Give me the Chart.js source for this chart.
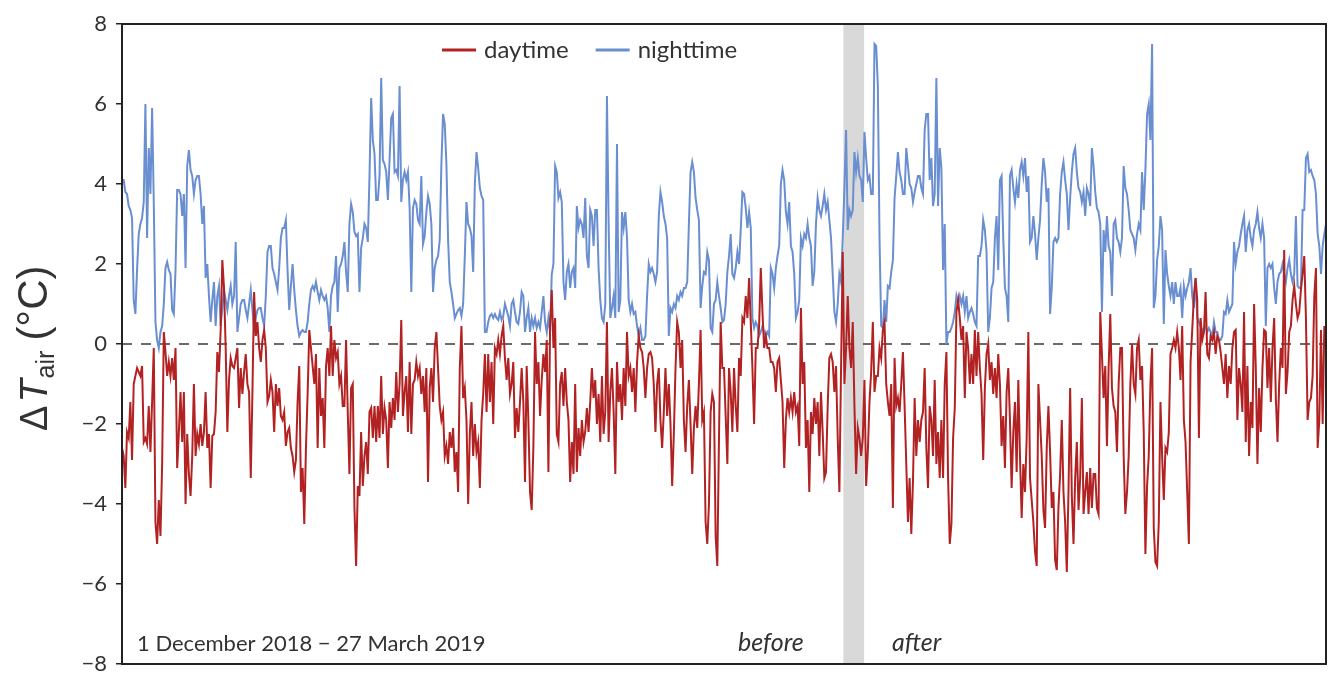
<!DOCTYPE html>
<html>
<head>
<meta charset="utf-8">
<script src="https://cdn.jsdelivr.net/npm/chart.js@4.4.1/dist/chart.umd.min.js"></script>
<style>
  html, body { margin: 0; padding: 0; background: #fff; }
  #wrap { width: 1330px; height: 673px; }
</style>
</head>
<body>
<div id="wrap"><canvas id="chart" width="1330" height="673"></canvas></div>
<script>
// air temperature difference, 1 Dec 2018 - 27 Mar 2019, evenly spaced samples
const spanDays = 116;
const bandStart = 69.5;   // days after 1 Dec (grey band)
const bandEnd = 71.5;

const daytime = [
  -2.6, -2.8, -3.6, -2.2, -2.35, -1.45, -2.9, -1.0, -0.8, -0.6,
  -0.7, -0.8, -0.55, -2.45, -2.35, -2.5, -1.55, -2.7, -1.45, -0.1,
  -4.45, -5.0, -3.9, -4.8, -3.0, 0.3, -0.2, -0.8, -0.45, -0.8,
  -0.35, -0.9, -0.1, -3.1, -2.2, -1.2, -2.45, -1.2, -4.0, -2.25,
  -3.25, -3.8, -2.8, -1.0, -2.8, -2.25, -2.5, -2.0, -2.55, -2.2,
  -1.2, -2.6, -2.25, -3.6, -2.3, -2.25, -1.7, -0.2, -0.7, 0.35,
  2.1, 1.4, -0.1, -2.2, -0.9, -0.35, -0.55, -0.6, -0.35, -0.1,
  -1.6, -0.6, -1.25, -0.7, -0.25, -1.0, -1.2, -3.35, -1.2, 1.3,
  0.2, 0.55, -0.1, -0.45, 0.1, 0.35, -0.1, -1.45, -1.3, -0.9,
  -1.2, -2.2, -1.0, -1.55, -1.1, -1.8, -1.9, -1.7, -2.55, -2.2,
  -2.1, -2.6, -2.8, -3.2, -2.9, -1.45, -0.55, -3.7, -3.1, -4.5,
  -2.6, -1.25, 0.35, -0.1, -0.55, -1.0, -0.25, -2.6, -0.6, -1.8,

  -1.35, -2.6, -0.55, -0.1, -0.8, 0.45, -0.8, 0.1, -0.35, -0.2,
  -1.0, -0.8, -1.55, -1.55, 0.1, -1.7, -3.25, -1.1, -1.0, -4.1,
  -5.55, -3.55, -3.8, -2.2, -3.55, -2.8, -2.45, -3.25, -1.7, -1.6,
  -2.35, -1.55, -2.45, -1.55, -2.35, -0.8, -2.25, -1.6, -1.9, -3.1,
  -1.45, -2.1, -1.35, -1.9, -0.7, -1.7, -1.0, 0.6, -1.8, -1.2,
  -0.8, -2.2, -0.45, -2.25, -1.0, -0.9, -0.45, -0.8, -0.6, -1.25,
  -0.8, -1.7, -0.6, -3.45, -1.1, -0.6, -1.45, -0.1, 0.3, -0.6,
  -1.55, -1.9, -1.7, -2.8, -2.55, -3.0, -2.2, -2.6, -2.1, -3.2,
  -2.7, -3.7, -0.6, 0.45, -1.35, -1.1, -1.9, -4.0, -2.25, -1.45,
  -2.8, -2.0, -2.7, -2.45, -3.6, -1.9, -1.25, -0.25, -1.7, -0.25,
  -1.45, -0.45, -2.0, -0.1, -0.25, 0.1, -0.25, 0.2, 0.45, -0.35,
  -0.9, -0.35, -1.25, -1.0, -0.45, -2.35, -1.6, -2.2, -1.45, -0.6,

  -1.45, -3.45, -0.55, -1.9, -3.7, -4.15, -2.6, 0.3, -1.0, -0.45,
  -1.8, -0.9, -0.25, -0.7, 0.1, -3.2, 0.45, 1.35, -0.1, 0.65,
  -2.25, -2.45, -1.0, -0.7, -1.55, -0.6, -1.45, -1.9, -3.45, -2.45,
  -3.25, -1.0, -3.2, -2.1, -2.8, -1.9, -2.45, -2.2, -1.6, -2.2,
  -1.45, -0.6, -1.35, -0.9, -2.0, -1.25, -2.45, -0.8, -2.25, -1.7,
  0.55, -2.45, -1.2, -0.6, -1.7, -3.25, -0.45, -1.45, -1.0, -1.9,
  -0.6, -1.55, 0.3, -0.8, -0.6, -1.2, -0.6, -1.7, -0.45, 0.2,
  -0.1, -0.2, -0.6, -1.35, -0.6, -0.25, -0.2, -0.35, -1.0, -2.2,
  -1.0, -0.6, -1.9, -2.6, -1.7, -0.6, -1.8, -1.0, -2.0, -3.55,
  -2.25, -0.6, 0.55, 0.3, -0.6, 0.1, -1.9, -2.7, -1.55, -0.9,
  -2.0, -3.25, -2.1, -1.55, -2.1, -1.0, 0.35, -1.9, -1.7, -4.45,
  -5.0, -4.0, -1.7, -1.25, -1.45, -4.8, -5.55, -2.35, 0.55, -0.6,

  -0.6, -1.8, -3.0, -0.6, -1.2, -2.2, -0.6, -1.55, -2.2, -0.35,
  -0.8, 0.65, 0.55, 1.2, 0.65, 1.65, 0.55, -0.6, -2.0, -0.1,
  -0.1, 0.45, 1.9, 0.8, -0.1, 0.2, -0.1, -0.1, -0.45, -0.45,
  -0.6, -1.2, -0.45, -0.35, -0.9, -1.45, -3.1, -1.9, -1.35, -1.7,
  -1.35, -1.7, -1.2, -1.7, -1.55, -2.55, 0.9, -1.0, -0.45, -2.6,
  -1.9, -3.7, -1.7, -2.25, -1.35, -2.0, -1.45, -2.8, -1.2, -2.2,
  -3.35, -3.2, -1.55, -0.35, -0.25, -0.45, -1.2, -0.55, -2.35, -3.7,
  -0.6, 2.3, -1.0, -0.1, 1.2, -0.1, -0.6, 0.55, -1.55, -3.25,
  -2.1, -2.35, -2.8, -2.35, -0.9, -3.55, -2.7, -1.45, -0.7, 0.55,
  -1.2, -0.8, -0.8, -0.1, -0.35, 0.35, 0.55, -1.0, -1.45, -1.8,
  -1.0, -4.1, -0.35, -1.55, -1.35, -1.7, -1.0, -0.2, -1.55, -3.0,
  -4.45, -3.35, -4.75, -3.45, -1.35, -2.8, -1.9, -2.45, -1.9, -1.7,

  -0.6, -2.6, -3.6, -1.55, -1.9, -2.8, -0.9, -3.0, -2.2, -3.35,
  -1.9, -3.35, -1.0, -0.2, -3.35, -5.0, -4.5, -2.35, -1.6, 0.8,
  1.1, 0.65, 0.1, 0.45, -1.35, 0.3, -0.1, -1.0, -0.25, -1.0,
  0.35, -0.8, 0.3, -0.6, -1.25, -2.9, -1.1, -0.25, 0.0, -0.9,
  -0.45, -1.25, -0.6, -1.35, -0.25, -1.0, -2.55, -1.8, -3.1, -1.2,
  -0.6, -1.9, -3.6, -2.2, -1.45, -3.2, -0.9, -2.8, -4.35, -3.0,
  -3.7, -2.35, 0.3, -3.35, -3.9, -4.45, -5.2, -5.55, -1.0, -1.9,
  -2.8, -4.15, -4.6, -2.6, -1.55, -2.7, -4.1, -3.7, -5.4, -5.65,
  -4.1, -3.25, -1.9, -3.7, -4.45, -5.7, -3.7, -1.1, -3.8, -5.0,
  -3.35, -2.45, -4.15, -3.35, -1.35, -4.25, -3.7, -3.2, -4.25, -3.1,
  -4.1, -3.25, -3.25, -4.1, -4.25, 0.8, -0.25, -1.35, -0.55, -2.55,
  -0.6, 0.75, -1.1, -1.55, -1.7, -2.7, -1.0, -0.1, -0.1, -2.8,

  -4.25, -3.7, -2.8, -1.0, 0.0, -1.0, -1.25, -0.1, 0.1, -0.9,
  -0.55, -2.2, -5.25, -3.55, -2.8, -1.0, -0.1, -4.6, -5.45, -5.55,
  -4.45, -1.45, -2.8, -3.9, -2.6, -2.7, -2.2, -0.25, -0.1, 0.1,
  -0.1, 0.3, -0.1, -0.9, 0.45, -1.9, -2.45, -3.7, -5.0, -0.45,
  0.35, 1.2, 1.65, 1.1, -2.35, 0.65, 0.1, 0.3, 1.3, -0.25,
  -0.35, 0.2, 0.1, 0.3, -0.25, 0.2, 0.1, -0.2, -0.6, -1.0,
  -0.25, -1.35, -0.55, -1.0, -0.1, 0.3, 0.35, -1.9, -0.6, -1.0,
  -1.7, 0.8, -2.45, -0.55, -2.8, -1.45, -2.1, 1.0, -0.6, -3.0,
  -1.1, -2.2, -0.6, 0.35, 0.3, -1.1, -0.1, -1.45, -0.1, 0.65,
  -1.35, -2.45, -1.0, -0.1, -0.6, 2.35, -1.25, -0.7, 0.3, 0.45,
  1.1, 1.45, 1.0, 0.65, 0.8, 1.35, 1.75, 2.2, 0.65, -1.9,
  -1.45, -1.35, -0.8, 1.2, 1.9, -2.6, -1.9, 0.35, -2.0, 0.45,
  0.1
];

const nighttime = [
  4.1, 4.1, 3.8, 3.75, 3.45, 3.35, 3.15, 1.1, 0.75, 1.85,
  2.75, 3.0, 3.15, 3.55, 6.0, 2.65, 4.9, 3.75, 5.9, 3.55,
  0.55, 0.1, -0.1, 0.3, 0.45, 1.0, 1.9, 2.05, 1.85, 1.75,
  0.85, 0.75, 1.85, 3.85, 3.85, 3.75, 3.2, 3.75, 1.9, 4.45,
  4.85, 4.35, 4.2, 3.75, 4.1, 4.2, 4.2, 3.75, 3.0, 3.45,
  1.65, 2.0, 1.2, 0.55, 1.1, 1.55, 0.45, 1.2, 1.45, 0.45,
  0.9, 1.35, 1.1, 0.85, 1.2, 1.45, 1.0, 1.2, 2.55, 0.3,
  0.65, 1.0, 1.1, 1.1, 0.85, 0.65, 1.0, 1.35, 0.85, 0.35,
  0.65, 0.85, 0.9, 0.9, 0.65, 0.45, 1.2, 2.3, 2.45, 2.45,
  1.9, 1.75, 1.55, 1.35, 1.9, 2.65, 2.9, 2.9, 3.1, 1.85,
  0.85, 1.45, 2.0, 1.35, 0.85, 0.45, 0.2, 0.3, 0.35, 0.3,
  0.3, 0.55, 1.0, 1.35, 1.45, 1.35, 1.55, 1.3, 1.1, 1.35,

  1.2, 1.1, 1.2, 0.9, 0.3, 1.2, 1.45, 1.55, 2.2, 0.8,
  1.9, 2.0, 2.2, 2.55, 1.8, 1.3, 3.0, 3.5, 3.3, 2.8,
  2.7, 2.75, 1.3, 2.4, 2.65, 3.0, 2.9, 2.55, 4.2, 6.15,
  5.1, 4.75, 3.6, 3.6, 4.2, 6.65, 4.6, 4.5, 4.3, 3.6,
  4.6, 5.65, 5.75, 4.3, 4.35, 4.2, 6.45, 3.55, 4.1, 4.3,
  4.1, 4.3, 3.4, 1.3, 3.4, 3.6, 3.5, 3.1, 3.0, 4.2,
  2.5, 2.7, 3.3, 3.7, 3.5, 3.0, 1.3, 1.9, 2.1, 2.2,
  2.6, 4.5, 5.75, 5.5, 4.5, 2.6, 1.55, 1.3, 1.0, 0.65,
  0.75, 0.85, 0.9, 0.7, 1.0, 2.2, 3.55, 3.0, 2.9, 2.7,
  1.8, 4.0, 4.8, 4.4, 3.9, 3.7, 3.6, 0.3, 0.3, 0.55,
  0.7, 0.75, 0.65, 0.75, 0.65, 0.6, 0.8, 0.6, 0.7, 1.0,
  0.85, 0.7, 0.45, 1.0, 1.1, 0.8, 0.55, 0.5, 0.8, 1.3,

  1.2, 0.3, 0.65, 0.9, 0.3, 0.65, 0.45, 0.65, 0.4, 0.55,
  0.4, 0.8, 1.2, 0.55, 0.3, 0.65, 0.3, 1.75, 2.0, 4.45,
  4.3, 3.65, 3.8, 3.55, 1.55, 1.1, 1.8, 2.0, 1.4, 1.8,
  1.9, 1.4, 3.45, 2.9, 3.1, 3.0, 2.65, 3.65, 2.2, 1.9,
  3.35, 3.2, 2.45, 3.35, 3.35, 1.9, 1.1, 0.65, 0.55, 1.0,
  6.2, 3.0, 0.65, 0.9, 1.2, 0.65, 5.0, 0.8, 1.1, 3.3,
  2.9, 3.3, 2.65, 1.1, 0.8, 1.0, 0.75, 0.8, 0.45, 0.2,
  0.4, 0.1, 0.1, 0.2, 1.2, 2.0, 1.8, 1.9, 1.75, 1.55,
  1.8, 3.2, 3.8, 3.55, 3.2, 3.0, 2.65, 0.2, 0.9, 0.8,
  1.0, 0.9, 1.2, 1.1, 1.3, 1.2, 1.4, 1.4, 1.55, 3.0,
  4.3, 4.55, 4.3, 3.65, 3.35, 3.1, 0.9, 1.45, 1.8, 1.75,
  2.3, 2.1, 0.4, 0.3, 1.0, 1.1, 1.55, 1.2, 0.9, 0.55,

  0.6, 1.0, 1.8, 2.2, 2.75, 1.75, 1.65, 1.9, 2.3, 2.0,
  2.85, 3.8, 3.75, 3.4, 2.9, 3.3, 2.9, 0.65, 0.4, 0.55,
  0.45, 0.2, 0.3, 0.45, 0.3, 0.2, 0.3, 0.2, 1.9, 1.75,
  1.4, 1.9, 2.2, 2.45, 4.0, 4.35, 4.1, 3.3, 3.0, 3.55,
  2.45, 2.3, 1.75, 0.65, 0.8, 1.1, 2.65, 2.45, 2.75, 2.65,
  3.0, 2.65, 2.45, 1.45, 1.8, 3.0, 3.65, 3.35, 3.2, 3.45,
  3.75, 3.35, 3.55, 3.1, 2.65, 1.75, 0.8, 0.55, 1.0, 1.75,
  1.55, 2.65, 3.9, 5.35, 2.85, 3.35, 3.2, 3.35, 4.8, 4.3,
  4.65, 4.2, 4.1, 3.55, 5.3, 4.65, 4.1, 4.2, 3.75, 3.75,
  7.5, 7.45, 6.45, 2.65, 0.45, 0.4, 1.1, 0.55, 1.45, 1.4,
  1.8, 2.1, 3.65, 4.2, 4.8, 4.3, 4.1, 3.75, 3.75, 4.9,
  4.45, 4.0, 3.9, 3.55, 3.8, 4.0, 4.2, 4.2, 3.9, 3.75,

  5.35, 5.75, 5.75, 4.1, 4.65, 3.45, 3.75, 6.65, 3.45, 4.9,
  4.4, 1.85, 3.0, 0.0, 0.3, 0.3, 0.4, 0.55, 0.8, 1.2,
  1.0, 1.2, 1.0, 1.2, 0.8, 1.2, 0.65, 0.8, 0.9, 0.75,
  0.55, 0.45, 2.2, 2.2, 2.45, 3.1, 2.85, 2.3, 0.3, 0.65,
  1.4, 1.55, 2.65, 3.2, 1.85, 4.1, 4.2, 2.65, 1.4, 1.2,
  0.55, 4.2, 4.35, 3.9, 3.55, 4.0, 3.65, 4.35, 4.55, 4.2,
  4.65, 3.8, 4.2, 2.55, 2.65, 3.2, 2.75, 2.1, 2.65, 3.1,
  4.0, 4.65, 4.3, 3.55, 3.9, 0.75, 1.4, 2.55, 2.65, 2.55,
  2.65, 3.75, 4.3, 4.55, 4.1, 3.75, 2.85, 3.65, 4.3, 4.75,
  4.9, 4.3, 3.9, 3.8, 3.55, 3.8, 3.2, 3.9, 3.75, 3.45,
  4.9, 4.45, 3.8, 3.4, 3.3, 3.0, 0.8, 2.85, 2.3, 3.2,
  2.45, 2.3, 1.2, 3.0, 3.1, 2.65, 2.55, 2.3, 2.65, 4.45,

  3.9, 3.75, 3.35, 2.85, 2.75, 2.65, 2.35, 2.75, 3.0, 2.85,
  4.3, 3.35, 4.35, 5.75, 6.0, 5.1, 7.5, 0.9, 1.2, 2.1,
  2.45, 3.2, 2.85, 0.5, 2.35, 1.75, 1.45, 1.2, 1.55, 1.0,
  1.55, 1.2, 1.2, 1.4, 0.65, 1.45, 1.2, 1.4, 1.55, 1.9,
  1.2, 0.9, 1.65, 0.65, 0.55, 0.45, 0.3, 0.4, 0.45, 0.3,
  0.4, 0.3, 0.2, 0.55, 0.3, 0.3, 0.1, 0.1, 0.2, 0.8,
  0.75, 1.1, 0.8, 0.9, 1.0, 2.55, 2.0, 2.3, 2.45, 2.75,
  3.0, 3.2, 2.3, 2.85, 3.0, 2.65, 2.45, 2.85, 3.0, 3.3,
  2.9, 2.65, 3.0, 2.65, 0.45, 1.9, 2.0, 1.9, 2.0, 1.4,
  1.0, 1.55, 1.75, 1.8, 2.0, 1.75, 1.55, 1.9, 2.1, 1.75,
  1.55, 1.75, 3.2, 1.45, 1.4, 1.4, 3.35, 3.35, 4.65, 4.75,
  4.3, 4.35, 4.2, 4.1, 3.75, 2.75, 2.45, 1.75, 2.45, 2.75,
  3.0
];

const yTicks = [-8, -6, -4, -2, 0, 2, 4, 6, 8];

const textColor = '#333333';
const redLine = '#b22222';
const blueLine = '#6a8fd0';

// sample times (days after 1 Dec 2018)
function toPoints(vals) {
  const step = spanDays / (vals.length - 1);
  return vals.map((v, i) => ({ x: i * step, y: v }));
}

const extras = {
  id: 'extras',
  beforeDatasetsDraw(chart) {
    const { ctx, chartArea: a, scales } = chart;
    const x1 = scales.x.getPixelForValue(bandStart);
    const x2 = scales.x.getPixelForValue(bandEnd);
    ctx.save();
    ctx.fillStyle = '#d9d9d9';
    ctx.fillRect(x1, a.top, x2 - x1, a.bottom - a.top);
    // zero line
    const y0 = scales.y.getPixelForValue(0);
    ctx.strokeStyle = '#3a3a3a';
    ctx.lineWidth = 1.5;
    ctx.setLineDash([10, 9]);
    ctx.beginPath();
    ctx.moveTo(a.left, y0);
    ctx.lineTo(a.right, y0);
    ctx.stroke();
    ctx.restore();
  },
  afterDatasetsDraw(chart) {
    const { ctx, chartArea: a } = chart;
    ctx.save();
    // frame
    ctx.strokeStyle = '#222';
    ctx.lineWidth = 2;
    ctx.strokeRect(a.left, a.top, a.right - a.left, a.bottom - a.top);

    // legend
    ctx.font = '24px Lato';
    ctx.textBaseline = 'middle';
    let lx = 442;
    const ly = 50;
    chart.data.datasets.forEach((ds) => {
      ctx.fillStyle = ds.borderColor;
      ctx.fillRect(lx, ly - 1.5, 34, 3);
      lx += 42;
      ctx.fillStyle = textColor;
      ctx.fillText(ds.label, lx, ly);
      lx += ctx.measureText(ds.label).width + 27;
    });

    // annotations
    ctx.textBaseline = 'alphabetic';
    ctx.font = '22px Lato';
    ctx.fillText('1 December 2018 \u2212 27 March 2019', 137, 651);
    ctx.font = 'italic 25px Lato';
    ctx.fillText('before', 738, 651);
    ctx.fillText('after', 892, 651);

    // y axis title
    ctx.translate(47, 431);
    ctx.rotate(-Math.PI / 2);
    let tx = 0;
    ctx.font = '38px "Liberation Sans"';
    ctx.fillText('\u0394', tx, 0);
    tx += ctx.measureText('\u0394').width + 3;
    ctx.font = 'italic 38px "Liberation Sans"';
    ctx.fillText('T', tx, 0);
    tx += ctx.measureText('T').width + 1;
    ctx.font = '25px "Liberation Sans"';
    ctx.fillText('air', tx, 7);
    tx += ctx.measureText('air').width + 10;
    ctx.font = '42px "Liberation Sans"';
    ctx.fillText('(\u00b0C)', tx, 0);
    ctx.restore();
  }
};

new Chart(document.getElementById('chart'), {
  type: 'line',
  data: {
    datasets: [
      {
        label: 'daytime',
        data: toPoints(daytime),
        borderColor: redLine,
        backgroundColor: redLine,
        borderWidth: 2,
        pointRadius: 0,
        tension: 0
      },
      {
        label: 'nighttime',
        data: toPoints(nighttime),
        borderColor: blueLine,
        backgroundColor: blueLine,
        borderWidth: 2,
        pointRadius: 0,
        tension: 0
      }
    ]
  },
  options: {
    responsive: false,
    animation: false,
    layout: { padding: { top: 24, right: 4, bottom: 9, left: 0 } },
    plugins: {
      legend: { display: false },
      tooltip: { enabled: false }
    },
    scales: {
      x: {
        type: 'linear',
        min: 0,
        max: spanDays,
        display: false
      },
      y: {
        min: -8,
        max: 8,
        afterBuildTicks(scale) {
          scale.ticks = yTicks.map((v) => ({ value: v }));
        },
        afterFit(scale) {
          scale.width = 122;
          scale.paddingTop = 0;
          scale.paddingBottom = 0;
        },
        grid: {
          drawOnChartArea: false,
          drawTicks: true,
          tickLength: 6,
          color: '#222',
          lineWidth: 1.5
        },
        border: { display: false },
        ticks: {
          padding: 9,
          color: textColor,
          font: { size: 22, family: 'Lato' },
          callback: (v) => String(v).replace('-', '\u2212')
        }
      }
    }
  },
  plugins: [extras]
});
</script>
</body>
</html>
